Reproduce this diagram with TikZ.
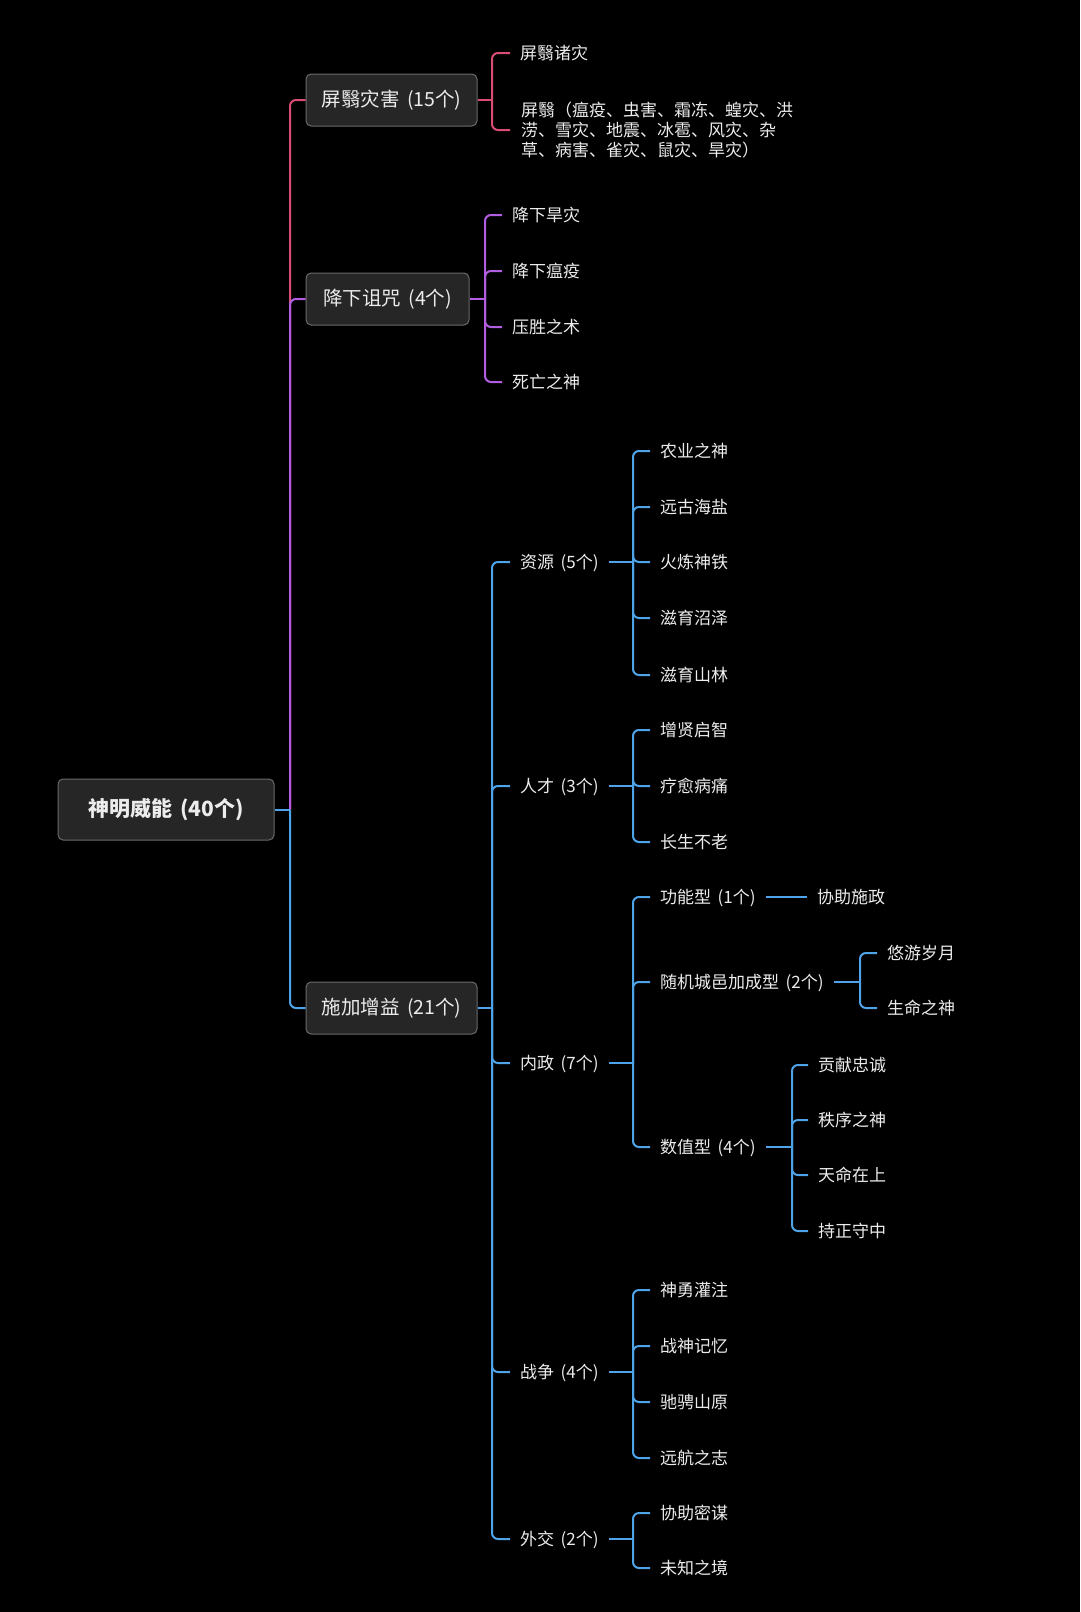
\documentclass[tikz,border=0pt]{standalone}
\usepackage{fontspec}
\setmainfont{Noto Sans CJK SC}
\newcommand\mycnt[1]{\hspace{0.38em}(#1个)}
\definecolor{bgc}{HTML}{000000}
\definecolor{boxfill}{HTML}{262626}
\definecolor{boxline}{HTML}{6A6A6A}
\definecolor{txt}{HTML}{ECECEC}
\definecolor{redl}{HTML}{D94C74}
\definecolor{purl}{HTML}{B35EE0}
\definecolor{blul}{HTML}{4FA3E8}
\tikzset{
  conn/.style={line width=2pt},
  rc/.style={conn, rounded corners=6pt},
  topbox/.style={draw=boxline, fill=boxfill, rounded corners=5pt, line width=1pt,
    text=txt, font=\fontsize{19.5}{22}\selectfont, inner sep=0pt, minimum height=52pt},
  rootbox/.style={topbox, font=\fontsize{21}{24}\selectfont\bfseries, minimum width=216pt, minimum height=61pt},
  leaf/.style={anchor=west, inner xsep=10pt, inner ysep=0pt, text=txt,
    font=\fontsize{17}{20}\selectfont, text height=15pt, text depth=2pt},
  multileaf/.style={anchor=west, inner xsep=11pt, inner ysep=0pt, text=txt, align=left,
    font=\fontsize{17}{20}\selectfont},
}
\begin{document}
\begin{tikzpicture}[x=1pt,y=-1pt]
\useasboundingbox (0,0) rectangle (1080,1612);
\fill[bgc] (0,0) rectangle (1080,1612);

% root and level 1
\node[rootbox] (root) at (166,809.5) {神明威能\mycnt{40}};
\node[topbox, minimum width=171pt] (pz) at (391.5,100) {屏翳灾害\mycnt{15}};
\node[topbox, minimum width=163pt] (jx) at (387.5,299) {降下诅咒\mycnt{4}};
\node[topbox, minimum width=171pt] (sj) at (391.5,1008) {施加增益\mycnt{21}};

% bracket coordinates
\coordinate (btr) at (290,809.5);
\coordinate (bpz) at (492,100);
\coordinate (bjx) at (485,299);
\coordinate (bsj) at (492,1008);
\coordinate (bzy) at (633,562);
\coordinate (brc) at (633,786);
\coordinate (bnz) at (633,1063);
\coordinate (bzz) at (633,1372);
\coordinate (bwj) at (633,1539);
\coordinate (bsdj) at (860,982);
\coordinate (bsz) at (792,1147);

% 屏翳灾害 children
\node[leaf] (pz1) at (510,53) {屏翳诸灾};
\node[multileaf] (pz2) at (510,130) {屏翳（瘟疫、虫害、霜冻、蝗灾、洪\\涝、雪灾、地震、冰雹、风灾、杂\\草、病害、雀灾、鼠灾、旱灾）};

% 降下诅咒 children
\node[leaf] (jx1) at (502,215) {降下旱灾};
\node[leaf] (jx2) at (502,271) {降下瘟疫};
\node[leaf] (jx3) at (502,327) {压胜之术};
\node[leaf] (jx4) at (502,382) {死亡之神};

% 施加增益 children
\node[leaf] (zy) at (510,562) {资源\mycnt{5}};
\node[leaf] (rcai) at (510,786) {人才\mycnt{3}};
\node[leaf] (nz) at (510,1063) {内政\mycnt{7}};
\node[leaf] (zz) at (510,1372) {战争\mycnt{4}};
\node[leaf] (wj) at (510,1539) {外交\mycnt{2}};

% 资源
\node[leaf] (zy1) at (650,451) {农业之神};
\node[leaf] (zy2) at (650,507) {远古海盐};
\node[leaf] (zy3) at (650,562) {火炼神铁};
\node[leaf] (zy4) at (650,618) {滋育沼泽};
\node[leaf] (zy5) at (650,675) {滋育山林};
% 人才
\node[leaf] (rc1) at (650,730) {增贤启智};
\node[leaf] (rc2) at (650,786) {疗愈病痛};
\node[leaf] (rc3) at (650,842) {长生不老};
% 内政
\node[leaf] (gn) at (650,897) {功能型\mycnt{1}};
\node[leaf] (sjc) at (650,982) {随机城邑加成型\mycnt{2}};
\node[leaf] (sz) at (650,1147) {数值型\mycnt{4}};
\node[leaf] (gn1) at (807,897) {协助施政};
\node[leaf] (sjc1) at (877,953) {悠游岁月};
\node[leaf] (sjc2) at (877,1008) {生命之神};
\node[leaf] (sz1) at (808,1065) {贡献忠诚};
\node[leaf] (sz2) at (808,1120) {秩序之神};
\node[leaf] (sz3) at (808,1175) {天命在上};
\node[leaf] (sz4) at (808,1231) {持正守中};
% 战争
\node[leaf] (zz1) at (650,1290) {神勇灌注};
\node[leaf] (zz2) at (650,1346) {战神记忆};
\node[leaf] (zz3) at (650,1402) {驰骋山原};
\node[leaf] (zz4) at (650,1458) {远航之志};
% 外交
\node[leaf] (wj1) at (650,1513) {协助密谋};
\node[leaf] (wj2) at (650,1568) {未知之境};

% ---- connectors ----
% trunk
\draw[rc, redl] (btr) |- (pz.west);
\draw[rc, purl] (btr) |- (jx.west);
\draw[rc, blul] (btr) |- (sj.west);
\draw[conn, blul] (root.east) -- (btr);

% red group
\draw[conn, redl] (pz.east) -- (bpz);
\foreach \c in {pz1,pz2} \draw[rc, redl] (bpz) |- (\c.west);

% purple group
\draw[conn, purl] (jx.east) -- (bjx);
\foreach \c in {jx1,jx2,jx3,jx4} \draw[rc, purl] (bjx) |- (\c.west);

% blue groups
\begin{scope}[blul]
\draw[conn] (sj.east) -- (bsj);
\foreach \c in {zy,rcai,nz,zz,wj} \draw[rc] (bsj) |- (\c.west);
\draw[conn] (zy.east) -- (bzy);
\foreach \c in {zy1,zy2,zy3,zy4,zy5} \draw[rc] (bzy) |- (\c.west);
\draw[conn] (rcai.east) -- (brc);
\foreach \c in {rc1,rc2,rc3} \draw[rc] (brc) |- (\c.west);
\draw[conn] (nz.east) -- (bnz);
\foreach \c in {gn,sjc,sz} \draw[rc] (bnz) |- (\c.west);
\draw[conn] (gn.east) -- (gn1.west);
\draw[conn] (sjc.east) -- (bsdj);
\foreach \c in {sjc1,sjc2} \draw[rc] (bsdj) |- (\c.west);
\draw[conn] (sz.east) -- (bsz);
\foreach \c in {sz1,sz2,sz3,sz4} \draw[rc] (bsz) |- (\c.west);
\draw[conn] (zz.east) -- (bzz);
\foreach \c in {zz1,zz2,zz3,zz4} \draw[rc] (bzz) |- (\c.west);
\draw[conn] (wj.east) -- (bwj);
\foreach \c in {wj1,wj2} \draw[rc] (bwj) |- (\c.west);
\end{scope}
\end{tikzpicture}
\end{document}
